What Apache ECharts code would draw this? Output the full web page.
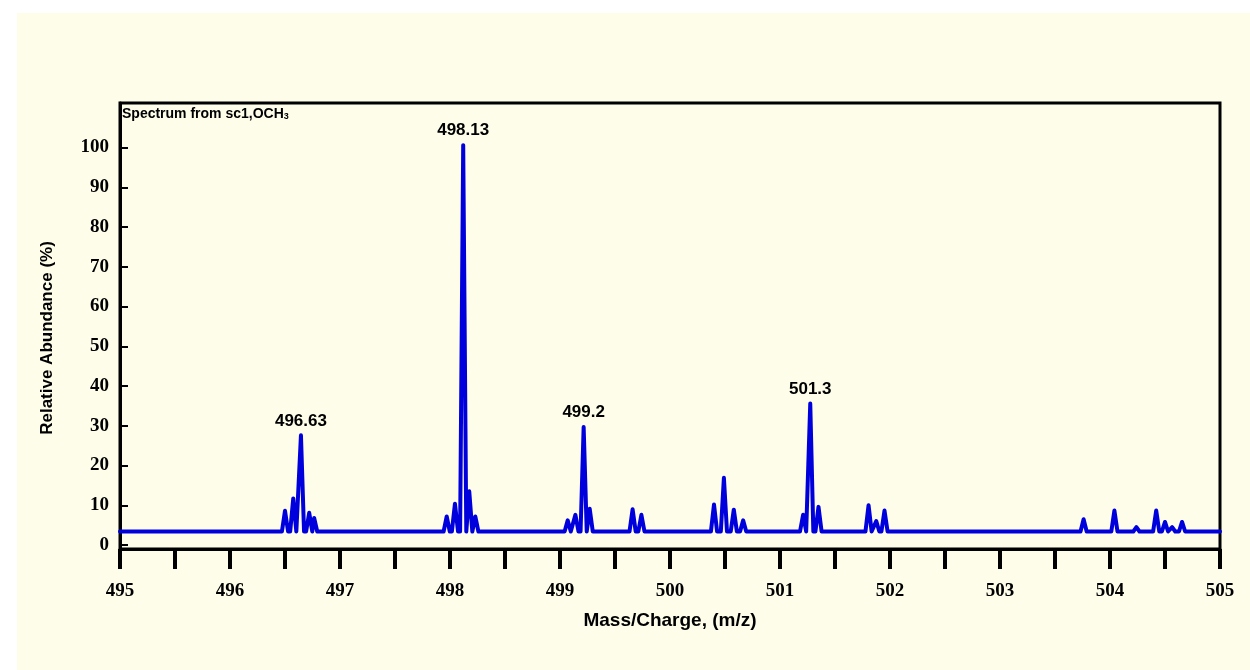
<!DOCTYPE html>
<html>
<head>
<meta charset="utf-8">
<script src="https://cdn.jsdelivr.net/npm/echarts@6/dist/echarts.min.js"></script>
<style>
  html, body { margin: 0; padding: 0; background: #ffffff; }
  #wrap { position: relative; width: 1250px; height: 670px; background: #ffffff; overflow: hidden; }
  #panel { position: absolute; left: 17px; top: 13px; right: 0; bottom: 0; background: #FEFDEA; }
  #chart { position: absolute; left: 0; top: 0; width: 1250px; height: 670px; }
</style>
</head>
<body>
<div id="wrap"><div id="panel"></div><div id="chart"></div></div>
<script>
// ---- data ----
const xTicks = [495, 496, 497, 498, 499, 500, 501, 502, 503, 504, 505];
const yTicks = [0, 10, 20, 30, 40, 50, 60, 70, 80, 90, 100];
const baseline = 3.4;
const peakMz = [496.50, 496.575, 496.645, 496.72, 496.765,
                497.97, 498.045, 498.12, 498.175, 498.23,
                499.07, 499.14, 499.215, 499.27, 499.66, 499.74,
                500.40, 500.49, 500.58, 500.665,
                501.21, 501.275, 501.35, 501.805, 501.875, 501.95,
                503.76, 504.04, 504.24, 504.42, 504.50, 504.565, 504.655];
const peakAbund = [8.6, 11.7, 27.6, 8.1, 6.8,
                   7.2, 10.4, 100.6, 13.5, 7.2,
                   6.2, 7.6, 29.7, 9.1, 9.0, 7.6,
                   10.2, 16.9, 8.9, 6.2,
                   7.6, 35.6, 9.6, 10.0, 6.0, 8.7,
                   6.5, 8.7, 4.5, 8.7, 5.8, 4.5, 5.8];
const labelIndex = [2, 7, 12, 21];
const labelText = ['496.63', '498.13', '499.2', '501.3'];

// ---- build the trace (each peak drawn as a narrow spike on the baseline) ----
const halfWidth = 0.028;
const trace = [[xTicks[0], baseline]];
for (let i = 0; i < peakMz.length; i++) {
  trace.push([peakMz[i] - halfWidth, baseline]);
  trace.push([peakMz[i], peakAbund[i]]);
  trace.push([peakMz[i] + halfWidth, baseline]);
}
trace.push([xTicks[xTicks.length - 1], baseline]);

const labelPoints = labelIndex.map((idx, k) => ({ value: [peakMz[idx], peakAbund[idx]], name: labelText[k] }));

const chart = echarts.init(document.getElementById('chart'), null, { renderer: 'canvas' });
chart.setOption({
  backgroundColor: 'transparent',
  animation: false,
  grid: { left: 120, right: 30, top: 103, bottom: 121, show: true, borderColor: '#000', borderWidth: 3, backgroundColor: 'transparent' },
  xAxis: {
    type: 'value', min: 495, max: 505, interval: 0.5,
    axisLine: { show: true, onZero: false, lineStyle: { color: '#000', width: 3 } },
    axisTick: { show: true, inside: false, length: 20, lineStyle: { color: '#000', width: 4 } },
    axisLabel: {
      margin: 33, color: '#000', fontFamily: 'Liberation Serif', fontWeight: 'bold', fontSize: 19,
      formatter: v => (Math.abs(v - Math.round(v)) < 1e-6 ? String(Math.round(v)) : '')
    },
    splitLine: { show: false }
  },
  yAxis: {
    type: 'value', min: -1, max: 111.2,
    axisLine: { show: true, onZero: false, lineStyle: { color: '#000', width: 3 } },
    axisTick: { show: true, inside: true, length: 8, customValues: yTicks, lineStyle: { color: '#000', width: 2 } },
    axisLabel: { margin: 11, color: '#000', fontFamily: 'Liberation Serif', fontWeight: 'bold', fontSize: 19, customValues: yTicks },
    splitLine: { show: false }
  },
  series: [
    {
      type: 'line', data: trace, showSymbol: false, symbol: 'none', smooth: false,
      lineStyle: { color: '#0000DD', width: 4, join: 'round', cap: 'round' },
      z: 3
    },
    {
      type: 'scatter', data: labelPoints, symbolSize: 0, silent: true,
      itemStyle: { opacity: 1 },
      label: {
        show: true, position: 'top', distance: 6, formatter: p => p.name,
        color: '#000000', opacity: 1, fontFamily: 'Liberation Sans', fontSize: 17, fontWeight: 'bold'
      },
      z: 4
    }
  ],
  graphic: [
    {
      type: 'text', left: 122, top: 107, z: 10,
      style: {
        text: 'Spectrum from sc1,OCH{sub|3}',
        fontFamily: 'Liberation Sans', fontSize: 14, fontWeight: 'bold', fill: '#000',
        rich: { sub: { fontSize: 9, fontWeight: 'bold', fontFamily: 'Liberation Sans', padding: [6, 0, 0, 0], fill: '#000' } }
      }
    },
    {
      type: 'text', x: 47, y: 338, rotation: Math.PI / 2, z: 10,
      style: { text: 'Relative Abundance (%)', fontFamily: 'Liberation Sans', fontSize: 17, fontWeight: 'bold', fill: '#000', textAlign: 'center', textVerticalAlign: 'middle' }
    },
    {
      type: 'text', x: 670, y: 621, z: 10,
      style: { text: 'Mass/Charge, (m/z)', fontFamily: 'Liberation Sans', fontSize: 19, fontWeight: 'bold', fill: '#000', textAlign: 'center', textVerticalAlign: 'middle' }
    }
  ]
});
</script>
</body>
</html>
